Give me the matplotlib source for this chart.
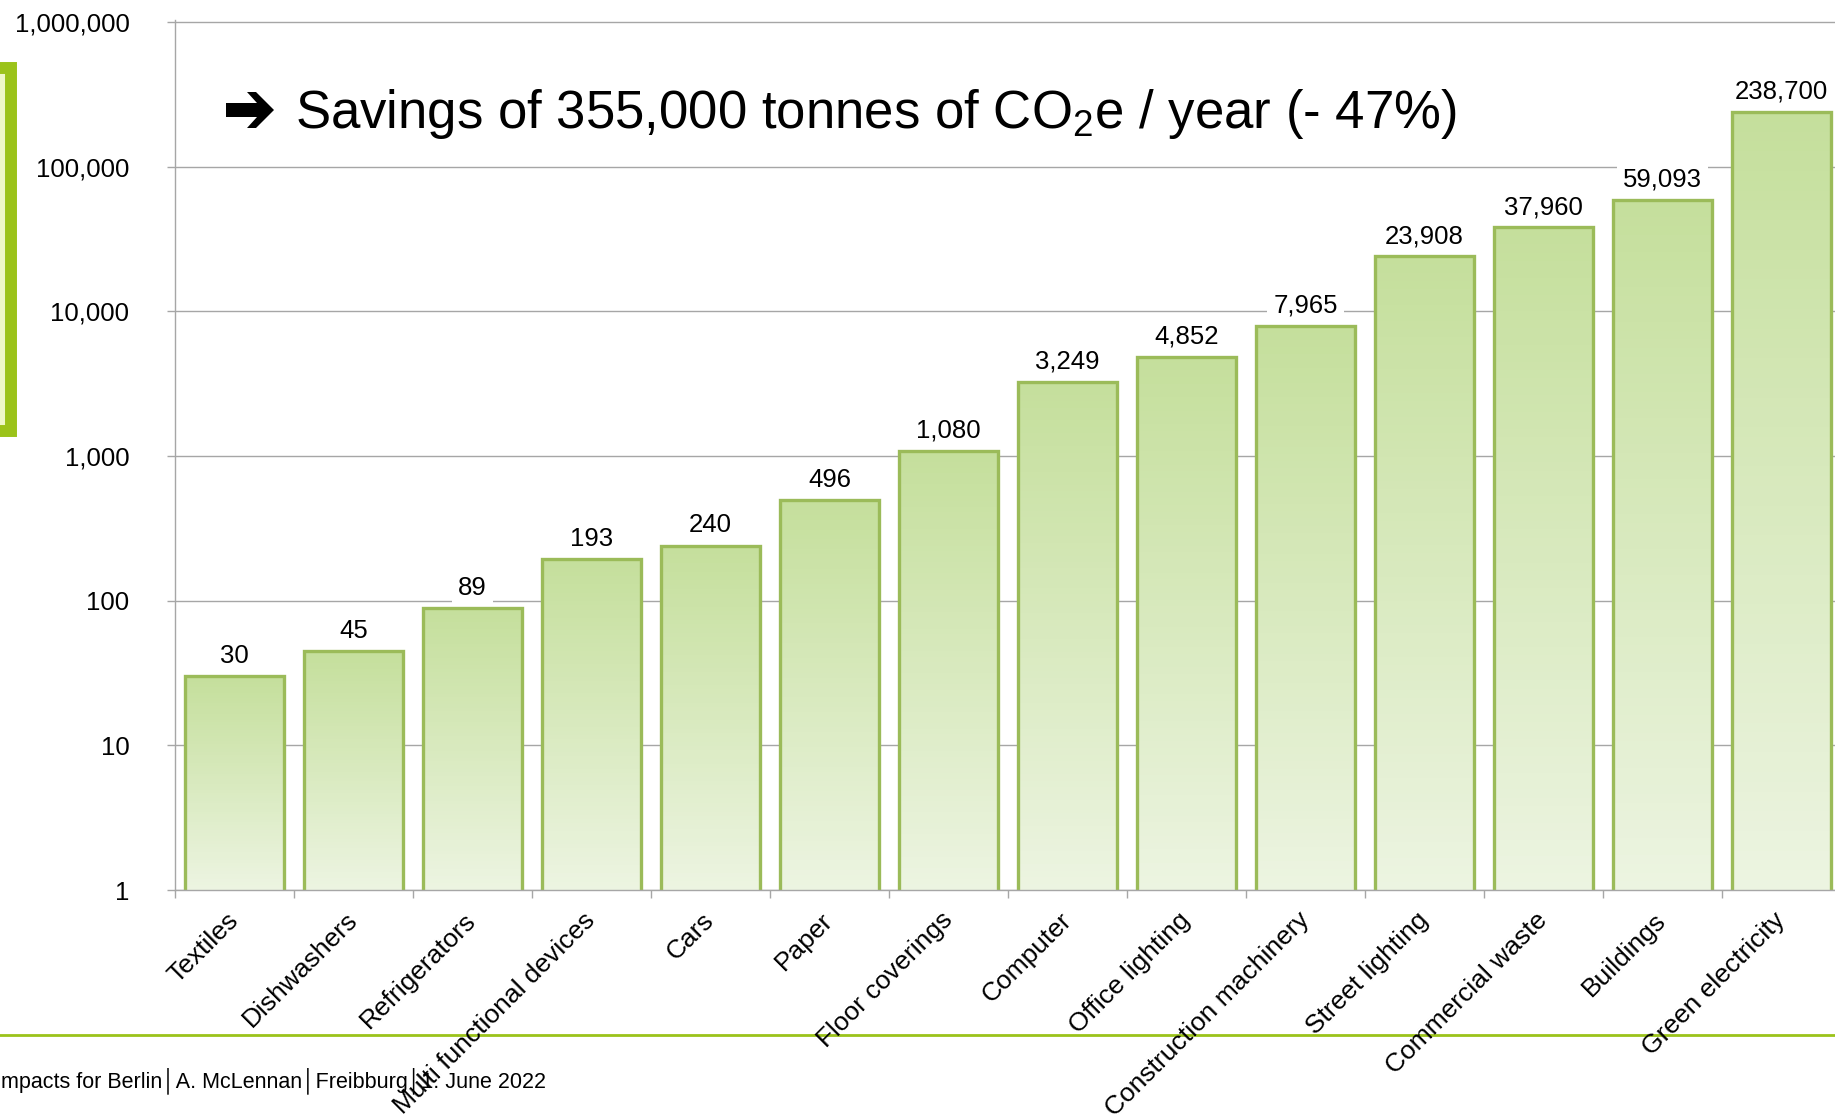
import numpy as np
import matplotlib.pyplot as plt
from matplotlib.colors import LinearSegmentedColormap
from matplotlib.patches import Rectangle, Polygon
from matplotlib.lines import Line2D
from matplotlib.ticker import FixedLocator, NullLocator, FuncFormatter

plt.rcParams['font.family'] = ['Liberation Sans', 'DejaVu Sans']
plt.rcParams['mathtext.fontset'] = 'custom'
plt.rcParams['mathtext.rm'] = 'Liberation Sans'
plt.rcParams['mathtext.it'] = 'Liberation Sans:italic'

categories = ["Textiles", "Dishwashers", "Refrigerators", "Multi functional devices",
              "Cars", "Paper", "Floor coverings", "Computer", "Office lighting",
              "Construction machinery", "Street lighting", "Commercial waste",
              "Buildings", "Green electricity"]
savings = [30, 45, 89, 193, 240, 496, 1080, 3249, 4852, 7965, 23908, 37960, 59093, 238700]
y_ticks = [1, 10, 100, 1000, 10000, 100000, 1000000]
title = "Savings of 355,000 tonnes of CO$_2$e / year (- 47%)"
footer = "Impacts for Berlin\u2502A. McLennan\u2502Freibburg\u25021. June 2022"

W, H = 1835, 1117
GRID = '#A6A6A6'
LIME = '#9BC31A'


def px(x, y):
    # pixel position from top-left -> figure fraction
    return (x / W, 1 - y / H)


fig = plt.figure(figsize=(W / 100, H / 100), dpi=100)
ax = fig.add_axes([175 / W, 227 / H, 1666 / W, 870 / H])
ax.set_yscale('log')
ax.set_ylim(1, 1.03e6)
ax.set_xlim(-0.5, len(categories) - 0.5)

# bars: outline only, gradient filled separately
x = np.arange(len(categories))
bars = ax.bar(x, savings, width=0.83, facecolor='none', edgecolor='#9BBB59',
              linewidth=2.4, zorder=2)

grad = LinearSegmentedColormap.from_list('grad', ['#ECF4E1', '#C5DF9C'])
for b, v in zip(bars, savings):
    ys = np.logspace(0, np.log10(v), 80)
    xs = [b.get_x(), b.get_x() + b.get_width()]
    c = np.linspace(0, 1, len(ys) - 1).reshape(-1, 1)
    ax.pcolormesh(xs, ys, c, cmap=grad, vmin=0, vmax=1, shading='flat',
                  edgecolors='none', antialiased=False, zorder=1.8)

for xi, v in zip(x, savings):
    ax.annotate(f"{v:,}", (xi, v), xytext=(0, 9.5), textcoords='offset points',
                ha='center', va='baseline', fontsize=18.5, zorder=1.5,
                bbox=dict(boxstyle='square,pad=0.25', fc='white', ec='none'))

# axes styling
ax.set_axisbelow(True)
ax.yaxis.grid(True, color=GRID, linewidth=1.0)
for s in ['top', 'right']:
    ax.spines[s].set_visible(False)
for s in ['left', 'bottom']:
    ax.spines[s].set_color(GRID)
    ax.spines[s].set_linewidth(1.0)

ax.yaxis.set_major_locator(FixedLocator(y_ticks))
ax.yaxis.set_minor_locator(NullLocator())
ax.yaxis.set_major_formatter(FuncFormatter(lambda v, p: f"{int(round(v)):,}"))
ax.tick_params(axis='y', which='major', length=5.8, width=1, color=GRID,
               pad=27, labelsize=18.5)

ax.set_xticks(np.arange(-0.5, len(categories), 1))
ax.set_xticklabels([])
ax.set_xticks(x, minor=True)
ax.set_xticklabels(categories, minor=True, rotation=45, ha='right', va='center',
                   rotation_mode='anchor')
ax.tick_params(axis='x', which='major', length=5.8, width=1, color=GRID)
ax.tick_params(axis='x', which='minor', length=0, pad=19, labelsize=19)

# headline with heavy arrow
arrow = [px(226, 103), px(257, 103), px(247, 92), px(256, 92), px(274, 110),
         px(256, 128), px(247, 128), px(257, 117), px(226, 117)]
fig.add_artist(Polygon(arrow, closed=True, transform=fig.transFigure,
                       fc='black', ec='none'))
fig.text(*px(295, 128), title, fontsize=38, ha='left', va='baseline')

# slide decorations
fig.add_artist(Rectangle(px(-50, 431), 61 / W, 363 / H,
                         transform=fig.transFigure, fc='#EEF8C8', ec=LIME,
                         lw=8.6, zorder=-1))
fig.add_artist(Line2D([0, 1], [px(0, 1035)[1]] * 2, transform=fig.transFigure,
                      color=LIME, lw=2, zorder=-1))
fig.text(*px(-5, 1087), footer, fontsize=15.5, ha='left', va='baseline')

fig.savefig('out.png', dpi=100)
